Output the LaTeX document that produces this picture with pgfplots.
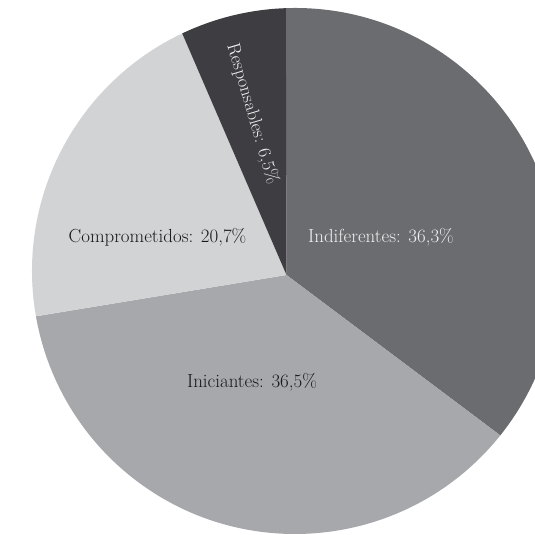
\documentclass[border=0pt]{standalone}
\usepackage{pgfplots}
\usepackage{pgfplotstable}
\pgfplotsset{compat=1.18}
\definecolor{cInd}{RGB}{107,108,112}
\definecolor{cIni}{RGB}{167,168,172}
\definecolor{cCom}{RGB}{210,211,213}
\definecolor{cRes}{RGB}{62,62,66}
\definecolor{lightTxt}{RGB}{240,240,240}
\definecolor{darkTxt}{RGB}{25,25,28}
\pgfplotstableread{
label value
Indiferentes 36.3
Iniciantes 36.5
Comprometidos 20.7
Responsables 6.5
}\piedata
\begin{document}
\begin{tikzpicture}
\pgfplotstablegetelem{0}{value}\of\piedata \let\vA\pgfplotsretval
\pgfplotstablegetelem{1}{value}\of\piedata \let\vB\pgfplotsretval
\pgfplotstablegetelem{2}{value}\of\piedata \let\vC\pgfplotsretval
\pgfplotstablegetelem{3}{value}\of\piedata \let\vD\pgfplotsretval
\pgfmathsetmacro\tA{92}
\pgfmathsetmacro\tB{\tA-3.6*\vA}
\pgfmathsetmacro\tC{\tB-3.6*\vB}
\pgfmathsetmacro\tD{\tC-3.6*\vC}
\pgfmathsetmacro\tE{\tD-3.6*\vD}
\def\cx{295}\def\cy{264}\def\ax{286.5}\def\ay{260}
\begin{axis}[name=ax, width=535bp, height=535bp, scale only axis,
  xmin=0, xmax=535, ymin=0, ymax=535, enlargelimits=false, hide axis, clip=true]
\fill[cInd] (axis cs:\ax,\ay) -- (axis cs:{\cx+263*cos(\tA)},{\cy+263*sin(\tA)}) arc[start angle=\tA, end angle=\tB, radius=263bp] -- cycle;
\fill[cIni] (axis cs:\ax,\ay) -- (axis cs:{\cx+263*cos(\tB)},{\cy+263*sin(\tB)}) arc[start angle=\tB, end angle=\tC, radius=263bp] -- cycle;
\fill[cCom] (axis cs:\ax,\ay) -- (axis cs:{\cx+263*cos(\tC)},{\cy+263*sin(\tC)}) arc[start angle=\tC, end angle=\tD, radius=263bp] -- cycle;
\fill[cRes] (axis cs:\ax,\ay) -- (axis cs:{\cx+263*cos(\tD)},{\cy+263*sin(\tD)}) arc[start angle=\tD, end angle=\tE, radius=263bp] -- cycle;
\node[text=lightTxt, font=\fontsize{19}{22}\selectfont] at (axis cs:381,298) {Indiferentes: 36,3\%};
\node[text=darkTxt, font=\fontsize{19}{22}\selectfont] at (axis cs:157.5,298) {Comprometidos: 20,7\%};
\node[text=darkTxt, font=\fontsize{19}{22}\selectfont] at (axis cs:252,153) {Iniciantes: 36,5\%};
\node[text=lightTxt, font=\fontsize{18.5}{22}\selectfont, rotate=-73.7] at (axis cs:252.5,421) {Responsables: 6,5\%};
\end{axis}
\pgfresetboundingbox
\path (ax.south west) rectangle (ax.north east);
\end{tikzpicture}
\end{document}
